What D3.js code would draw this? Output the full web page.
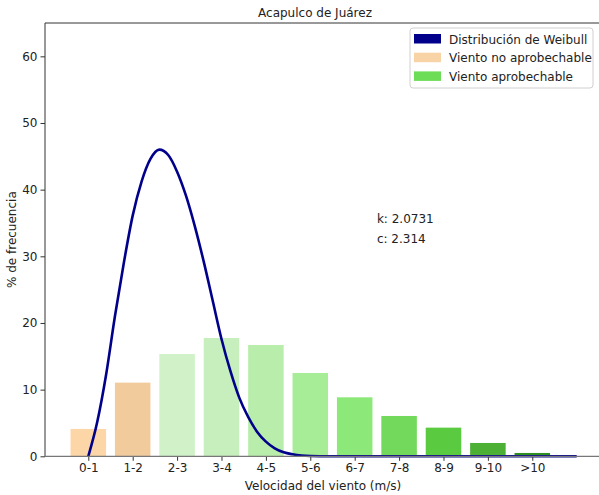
<!DOCTYPE html>
<html>
<head>
<meta charset="utf-8">
<script src="https://cdn.jsdelivr.net/npm/d3@7"></script>
<style>
  body { margin: 0; background: #fff; }
  svg { display: block; font-family: "DejaVu Sans", sans-serif; }
</style>
</head>
<body>
<svg id="chart" width="599" height="495"></svg>
<script>
'use strict';

// wind speed classes (m/s) and their frequency (%)
const categories = ['0-1', '1-2', '2-3', '3-4', '4-5', '5-6', '6-7', '7-8', '8-9', '9-10', '>10'];
const frequency = [4.1, 11.05, 15.35, 17.75, 16.7, 12.5, 8.85, 6.05, 4.3, 2.0, 0.5];

// weibull curve (x in class index units, y in %)
const curveX = [0, 0.2, 0.4, 0.6, 0.8, 1.0, 1.2, 1.4, 1.6, 1.8, 2.0, 2.2, 2.4, 2.6, 2.8, 3.0, 3.2, 3.4, 3.6, 3.8, 4.0, 4.2, 4.4, 4.6, 4.8, 5.0, 5.5, 6, 7, 8, 9, 10, 11];
const curveY = [0, 5.1, 12.2, 21.0, 29.0, 36.1, 41.2, 44.6, 46.0, 45.2, 42.7, 39.1, 34.5, 29.2, 23.4, 17.6, 12.8, 8.8, 5.9, 3.7, 2.2, 1.2, 0.6, 0.3, 0.12, 0.05, 0.01, 0, 0, 0, 0, 0, 0];

const yTicks = [0, 10, 20, 30, 40, 50, 60];
const weibullK = '2.0731';
const weibullC = '2.314';

const barColors = ['#fdd6a8', '#f1cb9c', '#d1f2c9', '#c6efbd', '#b9edab', '#a7ec97', '#8de87a', '#73d95c', '#5acb41', '#4bb034', '#2f8f21'];

const svg = d3.select('#chart');
const plot = { left: 45, right: 602, top: 23, bottom: 456.3 };

const x = d3.scaleLinear().domain([-0.975, 11.57]).range([plot.left, plot.right]);
const y = d3.scaleLinear().domain([0, 65]).range([plot.bottom, plot.top]);
const barWidth = x(0.8) - x(0);

// bars
svg.append('g').selectAll('rect')
    .data(frequency)
    .enter().append('rect')
    .attr('x', (d, i) => x(i - 0.4))
    .attr('y', d => y(d))
    .attr('width', barWidth)
    .attr('height', d => y(0) - y(d))
    .attr('fill', (d, i) => barColors[i]);

// weibull line
const line = d3.line()
    .x(d => x(d[0]))
    .y(d => y(d[1]))
    .curve(d3.curveMonotoneX);

svg.append('path')
    .datum(d3.zip(curveX, curveY))
    .attr('d', line)
    .attr('fill', 'none')
    .attr('stroke', '#00008b')
    .attr('stroke-width', 2.6)
    .attr('stroke-linejoin', 'round');

// axes
const xAxis = d3.axisBottom(x)
    .tickValues(d3.range(categories.length))
    .tickFormat(i => categories[i])
    .tickSize(4.5)
    .tickPadding(3);
const gx = svg.append('g')
    .attr('transform', `translate(0,${plot.bottom})`)
    .call(xAxis);
gx.select('.domain').remove();

const yAxis = d3.axisLeft(y)
    .tickValues(yTicks)
    .tickSize(4.5)
    .tickPadding(3);
const gy = svg.append('g')
    .attr('transform', `translate(${plot.left},0)`)
    .call(yAxis);
gy.select('.domain').remove();

svg.selectAll('.tick text')
    .attr('font-size', 12)
    .attr('font-family', 'DejaVu Sans')
    .attr('fill', '#222');
svg.selectAll('.tick line').attr('stroke', '#333');

// spines
svg.append('line')
    .attr('x1', plot.left).attr('x2', 599).attr('y1', plot.top).attr('y2', plot.top)
    .attr('stroke', '#333').attr('stroke-width', 1);
svg.append('line')
    .attr('x1', plot.left).attr('x2', plot.left).attr('y1', plot.top).attr('y2', plot.bottom)
    .attr('stroke', '#333').attr('stroke-width', 1);
svg.append('line')
    .attr('x1', plot.left).attr('x2', 599).attr('y1', plot.bottom).attr('y2', plot.bottom)
    .attr('stroke', '#777').attr('stroke-width', 1.2);

// labels
svg.append('text')
    .attr('x', 315).attr('y', 17)
    .attr('text-anchor', 'middle')
    .attr('font-size', 12)
    .attr('fill', '#222')
    .text('Acapulco de Juárez');

svg.append('text')
    .attr('x', 323).attr('y', 490)
    .attr('text-anchor', 'middle')
    .attr('font-size', 12)
    .attr('fill', '#222')
    .text('Velocidad del viento (m/s)');

svg.append('text')
    .attr('transform', `translate(16,${(plot.top + plot.bottom) / 2}) rotate(-90)`)
    .attr('text-anchor', 'middle')
    .attr('font-size', 12)
    .attr('fill', '#222')
    .text('% de frecuencia');

svg.append('text')
    .attr('x', x(6.5)).attr('y', y(35))
    .attr('font-size', 12)
    .attr('fill', '#222')
    .text('k: ' + weibullK);
svg.append('text')
    .attr('x', x(6.5)).attr('y', y(32))
    .attr('font-size', 12)
    .attr('fill', '#222')
    .text('c: ' + weibullC);

// legend
const legendItems = [
    { label: 'Distribución de Weibull', color: '#00008b' },
    { label: 'Viento no aprobechable', color: '#f8d3a5' },
    { label: 'Viento aprobechable', color: '#6ddc57' }
];
const legend = svg.append('g').attr('transform', 'translate(410,28)');
legend.append('rect')
    .attr('width', 183).attr('height', 60)
    .attr('rx', 3)
    .attr('fill', 'rgba(255,255,255,0.8)')
    .attr('stroke', '#d0d0d0');
const rows = legend.selectAll('g.item')
    .data(legendItems)
    .enter().append('g')
    .attr('class', 'item')
    .attr('transform', (d, i) => `translate(4,${6 + i * 18.7})`);
rows.append('rect')
    .attr('width', 27).attr('height', 9.5)
    .attr('fill', d => d.color);
rows.append('text')
    .attr('x', 35).attr('y', 9.5)
    .attr('font-size', 12)
    .attr('fill', '#222')
    .text(d => d.label);
</script>
</body>
</html>
